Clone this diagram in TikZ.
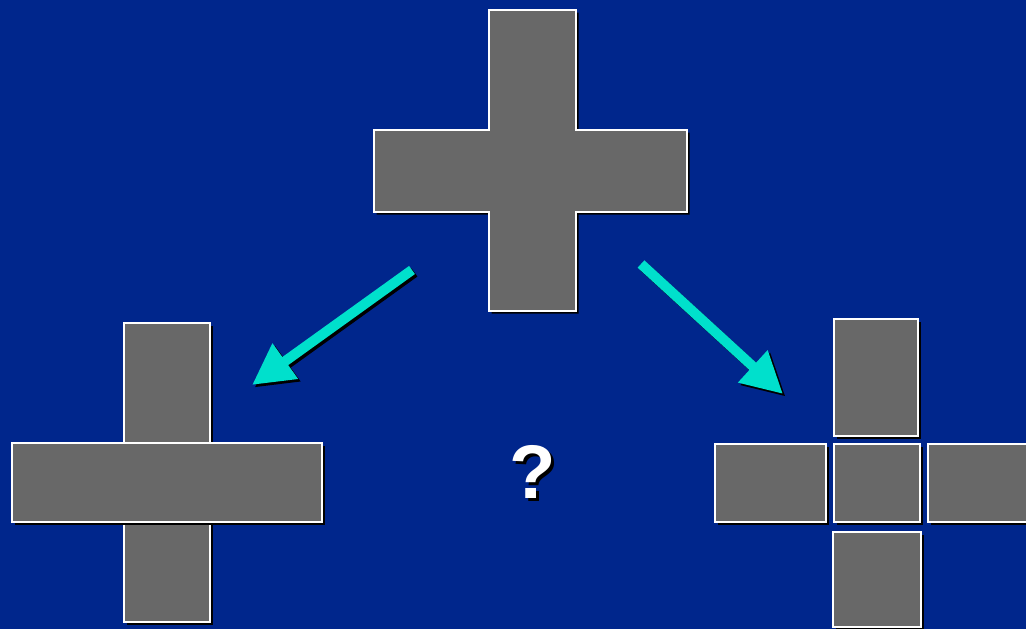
\documentclass[tikz,border=0pt]{standalone}
\usepackage{fontspec}
\setmainfont{Liberation Sans}
\usetikzlibrary{arrows.meta,shadows}
\definecolor{bgblue}{RGB}{0,38,140}
\definecolor{plate}{RGB}{104,104,104}
\definecolor{tealarrow}{RGB}{0,224,204}
\begin{document}
\begin{tikzpicture}[x=1pt,y=-1pt,
  shd/.style={drop shadow={shadow xshift=2.5pt, shadow yshift=-2.5pt, fill=black, opacity=1}},
  blk/.style={draw=white, line width=2pt, fill=plate, inner sep=0pt, outer sep=0pt, shd},
  arr/.style={line width=10pt, -{Triangle[length=41pt,width=41pt]}},
]
\fill[bgblue] (0,0) rectangle (1026,629);
\useasboundingbox (0,0) rectangle (1026,629);
\clip (0,0) rectangle (1026,629);

% top cross
\draw[blk] (489,10) -- (576,10) -- (576,130) -- (687,130) -- (687,212) -- (576,212)
  -- (576,311) -- (489,311) -- (489,212) -- (374,212) -- (374,130) -- (489,130) -- cycle;
\coordinate (topc) at (532,160);

% left cross
\node[blk, minimum width=86pt, minimum height=299pt] (lv) at (167,472.5) {};
\node[blk, minimum width=310pt, minimum height=79pt] (lh) at (167,482.5) {};

% right split cross
\node[blk, minimum width=84pt, minimum height=117pt] (rt) at (876,377.5) {};
\node[blk, minimum width=86pt, minimum height=78pt] (rm) at (877,483) {};
\node[blk, minimum width=111pt, minimum height=78pt] (rl) at (770.5,483) {};
\node[blk, minimum width=112pt, minimum height=78pt] (rr) at (984,483) {};
\node[blk, minimum width=88pt, minimum height=95pt] (rb) at (877,579.5) {};

% arrows
\coordinate (la1) at (412,270);
\coordinate (la2) at (252,385);
\coordinate (ra1) at (641,264);
\coordinate (ra2) at (783,394);
\draw[arr, black] ([shift={(2.5,2.5)}]la1) -- ([shift={(2.5,2.5)}]la2);
\draw[arr, tealarrow] (la1) -- (la2);
\draw[arr, black] ([shift={(2.5,2.5)}]ra1) -- ([shift={(2.5,2.5)}]ra2);
\draw[arr, tealarrow] (ra1) -- (ra2);

% question mark with shadow
\node[text=white, font=\fontsize{76}{76}\selectfont\bfseries, inner sep=0pt] (q) at (533,473)
  {\makebox[0pt][l]{\hspace{3pt}\raisebox{-3pt}{\color{black}?}}?};
\end{tikzpicture}
\end{document}
